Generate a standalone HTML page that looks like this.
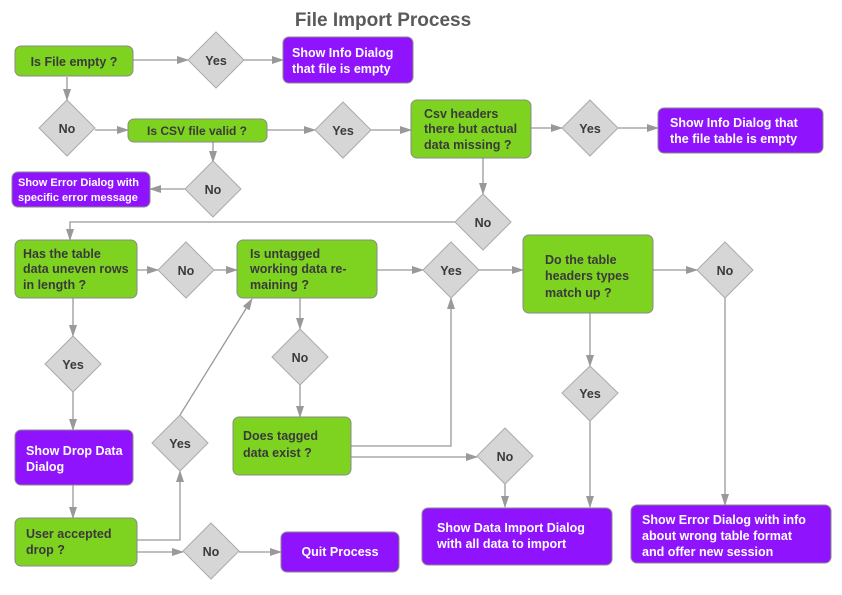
<!DOCTYPE html>
<html><head><style>body{margin:0;background:#fff}svg{display:block}text{font-family:"Liberation Sans",sans-serif;font-weight:bold;font-size:12.5px}</style></head>
<body>
<svg width="842" height="595" viewBox="0 0 842 595" xmlns="http://www.w3.org/2000/svg">
<defs><marker id="a" markerWidth="12" markerHeight="8" refX="11" refY="4" orient="auto" markerUnits="userSpaceOnUse"><path d="M0,0 L12,4 L0,8 z" fill="#999"/></marker></defs>
<text x="383" y="26" text-anchor="middle" style="font-size:19px" fill="#5a5a5a">File Import Process</text>
<g stroke="#999" stroke-width="1.3" fill="none" marker-end="url(#a)">
<path d="M133 60H188"/><path d="M244 60H283"/>
<path d="M67 77V100"/><path d="M95 130H128"/>
<path d="M267 130H315"/><path d="M371 130H411"/>
<path d="M213 142V162"/><path d="M185 189H150"/>
<path d="M531 128H562"/><path d="M618 128H658"/>
<path d="M483 158V194"/>
<path d="M455 222H70V240"/>
<path d="M137 270H158"/><path d="M214 270H237"/>
<path d="M377 270H423"/><path d="M479 270H523"/>
<path d="M653 270H697"/><path d="M725 298V505"/>
<path d="M590 313V366"/><path d="M590 421V507"/>
<path d="M505 484V507"/>
<path d="M351 446H451V298"/><path d="M351 457H477"/>
<path d="M300 298V329"/><path d="M300 385V417"/>
<path d="M73 298V336"/><path d="M73 392V430"/>
<path d="M73 485V518"/>
<path d="M137 540H180V471"/><path d="M180 415L252 299"/>
<path d="M137 552H183"/><path d="M239 552H281"/>
</g>
<g stroke="#8a8a8a" stroke-width="1" fill="#7ed321">
<rect x="15" y="46" width="118" height="30" rx="6"/>
<rect x="128" y="119" width="139" height="23" rx="6"/>
<rect x="411" y="100" width="120" height="58" rx="6"/>
<rect x="15" y="240" width="122" height="58" rx="6"/>
<rect x="237" y="240" width="140" height="58" rx="6"/>
<rect x="523" y="235" width="130" height="78" rx="6"/>
<rect x="233" y="417" width="118" height="58" rx="6"/>
<rect x="15" y="518" width="122" height="48" rx="6"/>
</g>
<g stroke="#8a8a8a" stroke-width="1" fill="#9013fe">
<rect x="283" y="37" width="130" height="46" rx="6"/>
<rect x="12" y="172" width="138" height="35" rx="6"/>
<rect x="658" y="108" width="165" height="45" rx="6"/>
<rect x="15" y="430" width="118" height="55" rx="6"/>
<rect x="281" y="532" width="118" height="40" rx="6"/>
<rect x="422" y="508" width="190" height="57" rx="6"/>
<rect x="631" y="505" width="200" height="58" rx="6"/>
</g>
<g stroke="#aaa" stroke-width="1" fill="#d6d6d6">
<path d="M216 32L244 60L216 88L188 60Z"/>
<path d="M67 100L95 128L67 156L39 128Z"/>
<path d="M343 102L371 130L343 158L315 130Z"/>
<path d="M213 161L241 189L213 217L185 189Z"/>
<path d="M590 100L618 128L590 156L562 128Z"/>
<path d="M483 194L511 222L483 250L455 222Z"/>
<path d="M186 242L214 270L186 298L158 270Z"/>
<path d="M451 242L479 270L451 298L423 270Z"/>
<path d="M725 242L753 270L725 298L697 270Z"/>
<path d="M590 366L618 393L590 421L562 393Z"/>
<path d="M505 428L533 456L505 484L477 456Z"/>
<path d="M300 329L328 357L300 385L272 357Z"/>
<path d="M73 336L101 364L73 392L45 364Z"/>
<path d="M180 415L208 443L180 471L152 443Z"/>
<path d="M211 523L239 551L211 579L183 551Z"/>
</g>
<g fill="#3a3a3a" text-anchor="middle">
<text x="216" y="65">Yes</text><text x="67" y="133">No</text>
<text x="343" y="135">Yes</text><text x="213" y="194">No</text>
<text x="590" y="133">Yes</text><text x="483" y="227">No</text>
<text x="186" y="275">No</text><text x="451" y="275">Yes</text>
<text x="725" y="275">No</text><text x="590" y="398">Yes</text>
<text x="505" y="461">No</text><text x="300" y="362">No</text>
<text x="73" y="369">Yes</text><text x="180" y="448">Yes</text>
<text x="211" y="556">No</text>
</g>
<g fill="#3a3a3a">
<text x="74" y="66" text-anchor="middle">Is File empty ?</text>
<text x="197" y="135" text-anchor="middle" style="font-size:12px">Is CSV file valid ?</text>
<text x="424" y="118">Csv headers</text><text x="424" y="133">there but actual</text><text x="424" y="149">data missing ?</text>
<text x="23" y="258">Has the table</text><text x="23" y="273">data uneven rows</text><text x="23" y="289">in length ?</text>
<text x="250" y="258">Is untagged</text><text x="250" y="273">working data re-</text><text x="250" y="289">maining ?</text>
<text x="545" y="264">Do the table</text><text x="545" y="280">headers types</text><text x="545" y="297">match up ?</text>
<text x="243" y="440">Does tagged</text><text x="243" y="457">data exist ?</text>
<text x="26" y="538">User accepted</text><text x="26" y="554">drop ?</text>
</g>
<g fill="#fff">
<text x="292" y="57">Show Info Dialog</text><text x="292" y="73">that file is empty</text>
<text x="18" y="186" style="font-size:11px">Show Error Dialog with</text><text x="18" y="201" style="font-size:11px">specific error message</text>
<text x="670" y="127">Show Info Dialog that</text><text x="670" y="143">the file table is empty</text>
<text x="26" y="455">Show Drop Data</text><text x="26" y="471">Dialog</text>
<text x="340" y="556" text-anchor="middle">Quit Process</text>
<text x="437" y="532">Show Data Import Dialog</text><text x="437" y="548">with all data to import</text>
<text x="642" y="524">Show Error Dialog with info</text><text x="642" y="540">about wrong table format</text><text x="642" y="556">and offer new session</text>
</g>
</svg>
</body></html>
